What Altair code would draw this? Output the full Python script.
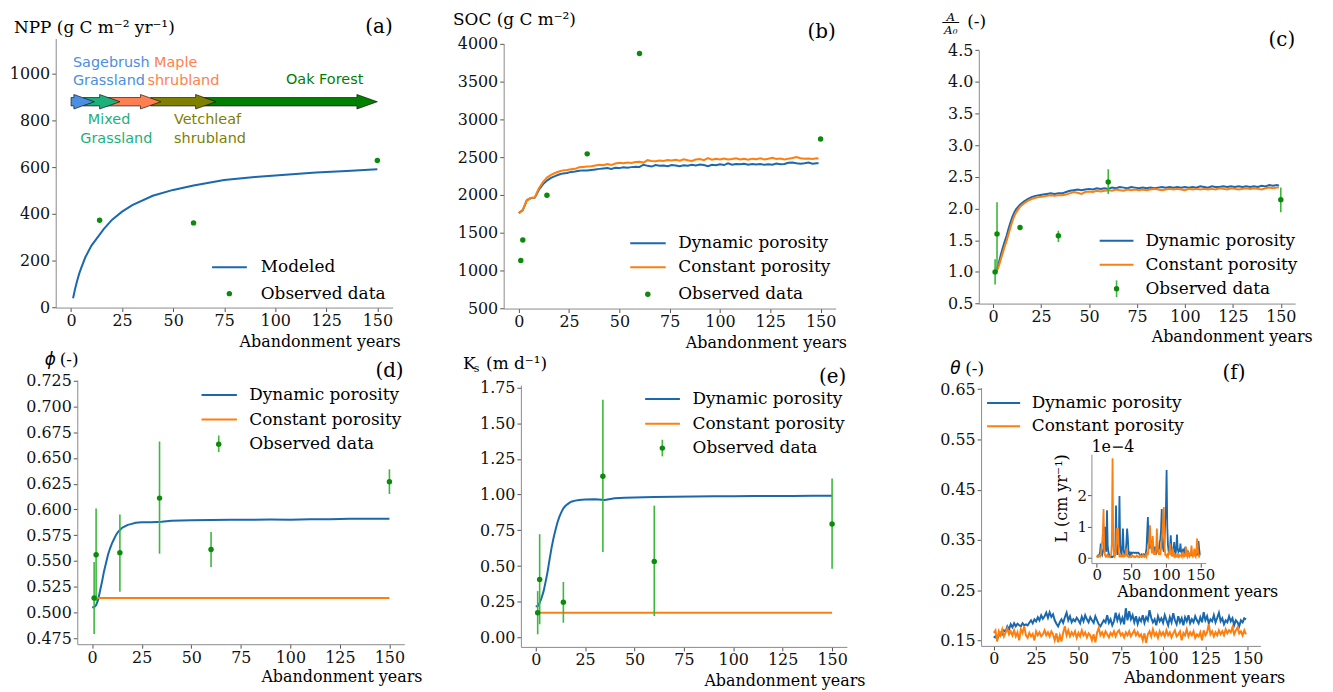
import altair as alt
import pandas as pd

# ---------------- values ----------------
# (a) NPP
npp_years = [1, 2, 3, 4, 5, 7, 10, 13, 16, 20, 25, 30, 40, 50, 60, 75, 90, 105, 120, 135, 150]
npp_model = [40, 80, 115, 145, 170, 215, 265, 300, 335, 375, 410, 438, 478, 503, 522, 545, 558, 568, 577, 584, 591]
npp_obs_years = [14, 60, 150]
npp_obs = [373, 362, 629]

stage_names = ["Sagebrush Grassland", "Mixed Grassland", "Maple shrubland", "Vetchleaf shrubland", "Oak Forest"]
stage_start = [0, 6, 17, 39, 65]
stage_end = [11.4, 24, 44, 71, 150]
stage_level = 880

# (b) SOC
soc_years = list(range(0, 150, 2)) + [149]
soc_dyn = [
    1760, 1800, 1930, 1960, 1965, 2070, 2140, 2190, 2225, 2250,
    2270, 2285, 2290, 2305, 2310, 2320, 2325, 2322, 2330, 2338,
    2345, 2350, 2355, 2345, 2360, 2355, 2365, 2360, 2368, 2372,
    2370, 2400, 2385, 2375, 2395, 2385, 2390, 2380, 2395, 2390,
    2380, 2392, 2385, 2398, 2390, 2402, 2395, 2380, 2400, 2392,
    2405, 2395, 2418, 2400, 2410, 2405, 2412, 2400, 2408, 2402,
    2410, 2398, 2405, 2400, 2415, 2405, 2410, 2425, 2430, 2420,
    2412, 2418, 2428, 2412, 2420,
    2418]
soc_const = [
    1760, 1800, 1930, 1960, 1970, 2090, 2170, 2230, 2265, 2290,
    2310, 2325, 2330, 2340, 2345, 2365, 2370, 2375, 2380, 2390,
    2400, 2392, 2410, 2395, 2415, 2425, 2418, 2428, 2422, 2435,
    2440, 2428, 2460, 2450, 2445, 2455, 2448, 2462, 2455, 2465,
    2452, 2470, 2458, 2450, 2468, 2475, 2460, 2488, 2465, 2478,
    2470, 2482, 2468, 2475, 2485, 2470, 2478, 2465, 2480, 2472,
    2484, 2470, 2478, 2490, 2475, 2482, 2470, 2480, 2488, 2500,
    2485, 2478, 2482, 2476, 2485,
    2480]
soc_obs_years = [1, 2, 14, 34, 60, 150]
soc_obs = [1134, 1406, 1996, 2543, 3869, 2740]

# (c) A/A0
agg_years = list(range(1, 13)) + list(range(14, 150, 2)) + [149]
agg_dyn = [
    1.00, 1.05, 1.15, 1.27, 1.38, 1.48, 1.57, 1.68, 1.78, 1.87, 1.94, 1.99,
    2.06, 2.11, 2.15, 2.18, 2.20, 2.21, 2.22, 2.23, 2.24, 2.23,
    2.24, 2.24, 2.26, 2.28, 2.29, 2.30, 2.29, 2.30, 2.31, 2.30,
    2.32, 2.31, 2.32, 2.31, 2.33, 2.32, 2.34, 2.33, 2.32, 2.34,
    2.33, 2.32, 2.33, 2.32, 2.33, 2.32, 2.33, 2.34, 2.33, 2.34,
    2.33, 2.34, 2.33, 2.34, 2.33, 2.34, 2.33, 2.35, 2.34, 2.33,
    2.35, 2.34, 2.34, 2.35, 2.34, 2.35, 2.34, 2.35, 2.34, 2.35,
    2.34, 2.35, 2.34, 2.36, 2.35, 2.37, 2.36, 2.37,
    2.36]
agg_const = [
    0.98, 1.02, 1.10, 1.20, 1.30, 1.40, 1.49, 1.60, 1.70, 1.80, 1.88, 1.94,
    2.03, 2.08, 2.12, 2.15, 2.17, 2.18, 2.19, 2.20, 2.21, 2.20,
    2.21, 2.21, 2.22, 2.24, 2.26, 2.25, 2.23, 2.26, 2.27, 2.26,
    2.28, 2.27, 2.28, 2.29, 2.28, 2.30, 2.29, 2.28, 2.30, 2.29,
    2.30, 2.29, 2.30, 2.29, 2.30, 2.31, 2.30, 2.29, 2.30, 2.31,
    2.30, 2.31, 2.30, 2.29, 2.31, 2.30, 2.31, 2.30, 2.31, 2.30,
    2.31, 2.30, 2.32, 2.31, 2.30, 2.32, 2.31, 2.30, 2.31, 2.32,
    2.31, 2.32, 2.31, 2.30, 2.32, 2.33, 2.32, 2.33,
    2.33]
obs_years = [1, 2, 14, 34, 60, 150]
agg_obs = [1.00, 1.60, 1.70, 1.57, 2.42, 2.14]
agg_lo = [0.80, 1.00, 1.68, 1.47, 2.23, 1.94]
agg_hi = [1.20, 2.10, 1.72, 1.65, 2.62, 2.33]

# (d) porosity and (e) Ks
de_years = list(range(0, 19)) + [20, 22, 25, 30, 35, 40, 45, 50] + list(range(60, 151, 10))
phi_dyn = [0.505, 0.505, 0.507, 0.512, 0.521, 0.530, 0.540, 0.548, 0.556, 0.562,
           0.567, 0.571, 0.575, 0.578, 0.580, 0.582, 0.583, 0.584, 0.585,
           0.586, 0.587, 0.5875, 0.5875, 0.588, 0.589, 0.5893, 0.5895,
           0.5897, 0.590, 0.590, 0.5902, 0.590, 0.5905, 0.5905, 0.591, 0.591, 0.591]
phi_const_years = [1, 150]
phi_const = [0.514, 0.514]
phi_obs = [0.514, 0.556, 0.558, 0.611, 0.561, 0.627]
phi_lo = [0.479, 0.511, 0.520, 0.557, 0.544, 0.615]
phi_hi = [0.549, 0.601, 0.595, 0.666, 0.578, 0.639]

ks_dyn = [0.220, 0.220, 0.243, 0.280, 0.325, 0.390, 0.460, 0.545, 0.626, 0.695,
          0.753, 0.805, 0.846, 0.878, 0.904, 0.920, 0.932, 0.942, 0.950,
          0.958, 0.963, 0.966, 0.968, 0.963, 0.975, 0.978, 0.980,
          0.983, 0.985, 0.986, 0.988, 0.988, 0.990, 0.990, 0.991, 0.992, 0.992]
ks_const_years = [1, 150]
ks_const = [0.174, 0.174]
ks_obs = [0.174, 0.406, 0.248, 1.129, 0.533, 0.795]
ks_lo = [0.023, 0.093, 0.104, 0.598, 0.151, 0.482]
ks_hi = [0.325, 0.723, 0.389, 1.664, 0.923, 1.113]

# (f) soil moisture and leaching (inset, x1e-4)
theta_years = list(range(0, 150))
theta_dyn = [
    0.155, 0.158, 0.152, 0.160, 0.165, 0.162, 0.170, 0.168, 0.178, 0.172,
    0.182, 0.176, 0.184, 0.178, 0.183, 0.180, 0.178, 0.184, 0.180, 0.182,
    0.180, 0.185, 0.190, 0.184, 0.192, 0.188, 0.196, 0.190, 0.200, 0.193,
    0.198, 0.205, 0.195, 0.206, 0.197, 0.202, 0.190, 0.183, 0.178, 0.186,
    0.192, 0.185, 0.196, 0.205, 0.190, 0.198, 0.186, 0.192, 0.188, 0.195,
    0.190, 0.184, 0.197, 0.188, 0.200, 0.192, 0.186, 0.196, 0.190, 0.185,
    0.198, 0.190, 0.182, 0.178, 0.184, 0.190, 0.186, 0.200, 0.185, 0.192,
    0.180, 0.188, 0.205, 0.190, 0.200, 0.186, 0.195, 0.182, 0.214, 0.190,
    0.208, 0.192, 0.200, 0.186, 0.198, 0.183, 0.194, 0.188, 0.200, 0.185,
    0.196, 0.190, 0.210, 0.195, 0.186, 0.192, 0.180, 0.198, 0.188, 0.194,
    0.185, 0.200, 0.190, 0.180, 0.196, 0.186, 0.204, 0.190, 0.182, 0.198,
    0.186, 0.194, 0.180, 0.196, 0.188, 0.200, 0.184, 0.192, 0.186, 0.198,
    0.190, 0.184, 0.196, 0.186, 0.206, 0.190, 0.198, 0.184, 0.192, 0.188,
    0.200, 0.186, 0.195, 0.205, 0.188, 0.194, 0.182, 0.190, 0.186, 0.198,
    0.188, 0.194, 0.180, 0.190, 0.186, 0.178, 0.190, 0.186, 0.194, 0.192]
theta_const = [
    0.165, 0.170, 0.148, 0.168, 0.160, 0.172, 0.158, 0.166, 0.174, 0.162,
    0.168, 0.160, 0.170, 0.158, 0.166, 0.150, 0.172, 0.165, 0.178, 0.160,
    0.155, 0.165, 0.158, 0.163, 0.150, 0.168, 0.160, 0.166, 0.158, 0.162,
    0.170, 0.160, 0.166, 0.158, 0.168, 0.162, 0.150, 0.164, 0.146, 0.160,
    0.148, 0.165, 0.178, 0.160, 0.170, 0.158, 0.166, 0.160, 0.168, 0.155,
    0.165, 0.158, 0.170, 0.160, 0.166, 0.156, 0.164, 0.160, 0.150, 0.162,
    0.146, 0.165, 0.175, 0.160, 0.166, 0.158, 0.168, 0.162, 0.156, 0.165,
    0.160, 0.168, 0.158, 0.166, 0.170, 0.160, 0.164, 0.156, 0.166, 0.160,
    0.168, 0.158, 0.164, 0.170, 0.160, 0.166, 0.158, 0.162, 0.150, 0.164,
    0.145, 0.162, 0.168, 0.158, 0.172, 0.160, 0.165, 0.155, 0.168, 0.160,
    0.166, 0.158, 0.170, 0.160, 0.166, 0.156, 0.164, 0.170, 0.158, 0.162,
    0.168, 0.150, 0.165, 0.160, 0.172, 0.158, 0.166, 0.160, 0.168, 0.155,
    0.162, 0.158, 0.166, 0.150, 0.170, 0.160, 0.166, 0.182, 0.162, 0.168,
    0.158, 0.166, 0.160, 0.170, 0.162, 0.168, 0.160, 0.172, 0.164, 0.170,
    0.166, 0.176, 0.162, 0.170, 0.176, 0.164, 0.168, 0.160, 0.170, 0.162]
leach_dyn = [
    0.05, 0.05, 0.08, 0.06, 0.10, 0.20, 0.46, 0.15, 0.10, 0.20,
    0.30, 0.60, 0.99, 0.30, 0.20, 1.52, 0.40, 0.20, 0.10, 0.05,
    0.05, 0.03, 0.05, 0.03, 0.05, 0.08, 0.10, 0.30, 1.67, 0.30,
    0.10, 0.20, 0.50, 1.97, 0.40, 0.20, 0.10, 0.40, 0.94, 0.30,
    0.10, 0.10, 0.20, 0.50, 0.94, 0.67, 0.20, 0.10, 0.15, 0.10,
    0.17, 0.15, 0.17, 0.18, 0.17, 0.16, 0.17, 0.17, 0.16, 0.17,
    0.17, 0.15, 0.12, 0.10, 0.10, 0.12, 0.10, 0.10, 0.12, 0.10,
    0.10, 0.15, 0.30, 0.80, 1.30, 0.50, 0.30, 0.83, 0.40, 0.30,
    0.57, 0.30, 0.20, 0.25, 0.36, 0.20, 0.15, 0.20, 0.30, 0.20,
    0.30, 0.50, 0.60, 0.90, 1.56, 0.60, 0.30, 0.20, 0.50, 1.20,
    1.50, 2.80, 1.00, 0.40, 0.20, 0.30, 0.25, 0.72, 0.30, 0.20,
    0.15, 0.30, 0.51, 0.20, 0.15, 0.30, 0.75, 0.30, 0.20, 0.25,
    0.20, 0.46, 0.20, 0.15, 0.20, 0.30, 0.20, 0.15, 0.36, 0.20,
    0.15, 0.10, 0.20, 0.15, 0.10, 0.12, 0.10, 0.15, 0.10, 0.10,
    0.12, 0.10, 0.15, 0.20, 0.10, 0.10, 0.15, 0.54, 0.30, 0.10]
leach_const = [
    0.03, 0.05, 0.03, 0.05, 0.08, 0.05, 0.10, 0.30, 0.50, 0.80,
    1.56, 0.30, 0.10, 0.05, 0.08, 0.05, 0.10, 0.05, 0.03, 0.05,
    0.08, 0.10, 0.50, 3.17, 0.50, 0.10, 0.05, 0.10, 0.30, 0.95,
    0.50, 0.95, 0.20, 0.05, 0.05, 0.08, 0.05, 0.05, 0.10, 0.05,
    0.05, 0.10, 0.05, 0.30, 0.10, 0.05, 0.03, 0.05, 0.03, 0.05,
    0.03, 0.05, 0.08, 0.05, 0.03, 0.05, 0.03, 0.05, 0.08, 0.05,
    0.03, 0.05, 0.03, 0.08, 0.05, 0.03, 0.05, 0.10, 0.05, 0.03,
    0.05, 0.10, 0.05, 0.20, 0.10, 0.30, 0.60, 1.04, 0.50, 0.30,
    0.15, 0.70, 0.30, 0.10, 0.20, 0.10, 0.30, 0.94, 0.40, 0.20,
    0.10, 0.20, 0.10, 0.30, 0.60, 0.80, 1.20, 1.62, 0.40, 0.10,
    0.10, 0.05, 0.10, 0.05, 0.20, 0.10, 0.46, 0.20, 0.10, 0.05,
    0.30, 0.10, 0.05, 0.10, 0.05, 0.08, 0.05, 0.10, 0.05, 0.10,
    0.05, 0.08, 0.10, 0.05, 0.20, 0.10, 0.05, 0.10, 0.05, 0.36,
    0.10, 0.05, 0.20, 0.10, 0.05, 0.10, 0.20, 0.40, 0.10, 0.05,
    0.10, 0.30, 0.10, 0.05, 0.20, 0.62, 0.30, 0.10, 0.05, 0.10]

# ---------------- styling / layout ----------------
SERIF = "DejaVu Serif"
SANS = "DejaVu Sans"
BLUE = "#1a68ad"
ORANGE = "#ff7f0e"
GREEN_DOT = "#0c8a0c"
GREEN_BAR = "#3cb83c"
K = "black"
stage_colors = ["#4a8fe0", "#1db07a", "#ff7f50", "#808000", "#008000"]
W, H, M = 1325, 684, 8
XDOM = [-7.5, 157.5]
XTICKS = [0, 25, 50, 75, 100, 125, 150]

# plot-area rectangles in page pixels
PANELS = {
    "a": dict(x0=56, x1=395, yt=36.7, yb=307.3, ydom=[0, 1150]),
    "b": dict(x0=506.7, x1=840.7, yt=41.7, yb=308.3, ydom=[500, 4000]),
    "c": dict(x0=984.7, x1=1303, yt=48.3, yb=303.3, ydom=[0.5, 4.5]),
    "d": dict(x0=77.7, x1=406.7, yt=380.3, yb=646, ydom=[0.469, 0.7257]),
    "e": dict(x0=524, x1=852, yt=385.3, yb=648.7, ydom=[-0.065, 1.766]),
    "f": dict(x0=987, x1=1268, yt=387.7, yb=647.7, ydom=[0.139, 0.6535]),
    "i": dict(x0=1098, x1=1213, yt=454.8, yb=564.4, ydom=[-0.16, 3.3]),
}


def xy(xv, yv):
    return pd.DataFrame({"x": xv, "y": yv})


def bars(xv, lo, hi):
    return pd.DataFrame({"x": xv, "lo": lo, "hi": hi})


def panel(key, parts, xvals, yvals, yfmt, size=16, lw=2, xpad=1, ypad=2):
    p = PANELS[key]
    sx = alt.Scale(domain=XDOM, range=[p["x0"] - M, p["x1"] - M], nice=False, zero=False)
    sy = alt.Scale(domain=p["ydom"], range=[p["yb"] - M, p["yt"] - M], nice=False, zero=False)
    common = dict(labelFont=SERIF, labelFontSize=size, labelColor="#111111", labelOverlap=False,
                  labelFlush=False, grid=False, title=None, domainColor="#8a8a8a",
                  tickColor="#555555", tickSize=4, domainWidth=1, tickWidth=1)
    xa = alt.Axis(orient="bottom", offset=(p["yb"] - M) - H, values=xvals, format="d",
                  labelPadding=xpad, **common)
    ya = alt.Axis(orient="left", offset=-(p["x0"] - M), values=yvals, format=yfmt,
                  labelPadding=ypad, **common)
    out = []
    for kind, df, color in parts:
        X = alt.X("x:Q", scale=sx, axis=xa)
        if kind == "line":
            out.append(alt.Chart(df).mark_line(color=color, strokeWidth=lw).encode(
                X, alt.Y("y:Q", scale=sy, axis=ya)))
        elif kind == "dot":
            out.append(alt.Chart(df).mark_circle(color=color, size=30, opacity=1).encode(
                X, alt.Y("y:Q", scale=sy, axis=ya)))
        elif kind == "bar":
            out.append(alt.Chart(df).mark_rule(color=color, strokeWidth=1.6).encode(
                X, alt.Y("lo:Q", scale=sy, axis=ya), alt.Y2("hi:Q")))
        elif kind == "arrow":
            out.append(alt.Chart(df).mark_area(fill=color, stroke="black", strokeWidth=0.6,
                                               opacity=1).encode(
                X, alt.Y("lo:Q", scale=sy, axis=ya), alt.Y2("hi:Q")))
    return alt.layer(*out)


# succession arrows for panel (a), built from stage start/end years
HEAD_LEN, BODY, HEAD = 10, 18, 31
arrow_parts = []
for k in reversed(range(len(stage_names))):
    x0, x1 = stage_start[k], stage_end[k]
    xh = x1 - HEAD_LEN
    c = stage_level
    arrow_df = pd.DataFrame({
        "x": [x0, xh - 0.01, xh, x1],
        "lo": [c - BODY, c - BODY, c - HEAD, c],
        "hi": [c + BODY, c + BODY, c + HEAD, c],
    })
    arrow_parts.append(("arrow", arrow_df, stage_colors[k]))

pa = panel("a", [("line", xy(npp_years, npp_model), BLUE)] + arrow_parts +
           [("dot", xy(npp_obs_years, npp_obs), GREEN_DOT)],
           XTICKS, [0, 200, 400, 600, 800, 1000], "d")
pb = panel("b", [("line", xy(soc_years, soc_dyn), BLUE),
                 ("line", xy(soc_years, soc_const), ORANGE),
                 ("dot", xy(soc_obs_years, soc_obs), GREEN_DOT)],
           XTICKS, [500, 1000, 1500, 2000, 2500, 3000, 3500, 4000], "d")
pc = panel("c", [("line", xy(agg_years, agg_dyn), BLUE),
                 ("line", xy(agg_years, agg_const), ORANGE),
                 ("bar", bars(obs_years, agg_lo, agg_hi), GREEN_BAR),
                 ("dot", xy(obs_years, agg_obs), GREEN_DOT)],
           XTICKS, [0.5, 1.0, 1.5, 2.0, 2.5, 3.0, 3.5, 4.0, 4.5], ".1f")
pd_ = panel("d", [("line", xy(de_years, phi_dyn), BLUE),
                  ("line", xy(phi_const_years, phi_const), ORANGE),
                  ("bar", bars(obs_years, phi_lo, phi_hi), GREEN_BAR),
                  ("dot", xy(obs_years, phi_obs), GREEN_DOT)],
            XTICKS, [0.475, 0.5, 0.525, 0.55, 0.575, 0.6, 0.625, 0.65, 0.675, 0.7, 0.725], ".3f")
pe = panel("e", [("line", xy(de_years, ks_dyn), BLUE),
                 ("line", xy(ks_const_years, ks_const), ORANGE),
                 ("bar", bars(obs_years, ks_lo, ks_hi), GREEN_BAR),
                 ("dot", xy(obs_years, ks_obs), GREEN_DOT)],
           XTICKS, [0, 0.25, 0.5, 0.75, 1.0, 1.25, 1.5, 1.75], ".2f")
pf = panel("f", [("line", xy(theta_years, theta_dyn), BLUE),
                 ("line", xy(theta_years, theta_const), ORANGE)],
           XTICKS, [0.15, 0.25, 0.35, 0.45, 0.55, 0.65], ".2f")
pi = panel("i", [("line", xy(theta_years, leach_dyn), BLUE),
                 ("line", xy(theta_years, leach_const), ORANGE)],
           [0, 50, 100, 150], [0, 1, 2], "d", size=15, lw=1.8, xpad=0, ypad=1)


# ---------------- annotations (page pixel positions) ----------------
def texts(rows, align="left", font=SERIF, size=16, angle=0, style="normal"):
    df = pd.DataFrame(rows, columns=["t", "px", "py", "c"])
    df["px"] = df["px"] - M
    df["py"] = df["py"] - M
    return alt.Chart(df).mark_text(align=align, baseline="middle", font=font, fontSize=size,
                                   angle=angle, fontStyle=style).encode(
        x=alt.X("px:Q", scale=None, axis=None), y=alt.Y("py:Q", scale=None, axis=None),
        text="t:N", color=alt.Color("c:N", scale=None))


def hrules(rows, width=2):
    df = pd.DataFrame(rows, columns=["a", "b", "py", "c"])
    for col in ["a", "b", "py"]:
        df[col] = df[col] - M
    return alt.Chart(df).mark_rule(strokeWidth=width).encode(
        x=alt.X("a:Q", scale=None, axis=None), x2="b:Q",
        y=alt.Y("py:Q", scale=None, axis=None), color=alt.Color("c:N", scale=None))


def vrules(rows, width=1.6):
    df = pd.DataFrame(rows, columns=["px", "a", "b", "c"])
    for col in ["px", "a", "b"]:
        df[col] = df[col] - M
    return alt.Chart(df).mark_rule(strokeWidth=width).encode(
        x=alt.X("px:Q", scale=None, axis=None),
        y=alt.Y("a:Q", scale=None, axis=None), y2="b:Q", color=alt.Color("c:N", scale=None))


def dots(rows):
    df = pd.DataFrame(rows, columns=["px", "py", "c"])
    df["px"] = df["px"] - M
    df["py"] = df["py"] - M
    return alt.Chart(df).mark_circle(size=30, opacity=1).encode(
        x=alt.X("px:Q", scale=None, axis=None), y=alt.Y("py:Q", scale=None, axis=None),
        color=alt.Color("c:N", scale=None))


AY = "Abandonment years"
DP, CP, OD = "Dynamic porosity", "Constant porosity", "Observed data"
LEG, YT, TAG = 17, 17, 20

titles_left = texts([
    ("NPP (g C m⁻² yr⁻¹)", 14, 26, K),
    ("SOC (g C m⁻²)", 455.7, 18.3, K),
    ("(-)", 973, 20.5, K),
    ("(-)", 60, 360, K),
    ("K", 465.7, 364.3, K),
    ("(m d⁻¹)", 489, 364.3, K),
    ("(-)", 971, 368.7, K),
], size=YT)
offset_text = texts([("1e−4", 1098, 447.7, K)], size=16)
ks_sub = texts([("s", 476.5, 369.5, K)], size=11)
greek = texts([("ϕ", 45, 360, K), ("θ", 956, 368.7, K)], font=SANS, size=YT, style="italic")
frac = texts([("A", 956.5, 14.5, K), ("A₀", 956.5, 28.5, K)], align="center", size=12, style="italic")
frac_bar = hrules([(948, 965, 20.5, K)], width=1)

panel_tags = texts([
    ("(a)", 395, 25, K), ("(b)", 840.7, 30, K), ("(c)", 1303, 38.3, K),
    ("(d)", 406, 371, K), ("(e)", 851.3, 377, K), ("(f)", 1253, 373.3, K),
], align="right", size=TAG)
xtitles = texts([
    (AY, 403, 341.5, K), (AY, 852, 342.5, K), (AY, 1320.7, 336.7, K),
    (AY, 425, 679.3, K), (AY, 870.7, 682.7, K), (AY, 1293, 680.3, K),
    (AY, 1286, 594, K),
], align="right", size=16)
ytitle_inset = texts([("L (cm yr⁻¹)", 1068, 499.3, K)], align="center", size=16, angle=270)

stage_text = texts([
    ("Sagebrush", 73.3, 61.7, stage_colors[0]), ("Grassland", 73.3, 79, stage_colors[0]),
    ("Maple", 155, 61.7, stage_colors[2]), ("shrubland", 148.3, 79, stage_colors[2]),
    ("Oak Forest", 287.7, 78.3, stage_colors[4]),
    ("Mixed", 88.3, 118.3, stage_colors[1]), ("Grassland", 80.7, 137.3, stage_colors[1]),
    ("Vetchleaf", 175, 118.3, stage_colors[3]), ("shrubland", 175, 137.3, stage_colors[3]),
], font=SANS, size=14.5)

legend_lines = hrules([
    (213.3, 248.3, 266.7, BLUE),
    (634, 669.7, 242.7, BLUE), (634, 669.7, 266.7, ORANGE),
    (1106.3, 1140.3, 240, BLUE), (1106.3, 1140.3, 264.3, ORANGE),
    (202.7, 238.3, 395.3, BLUE), (202.7, 238.3, 420, ORANGE),
    (649, 684, 399.3, BLUE), (649, 684, 424.3, ORANGE),
    (993, 1026.3, 403.3, BLUE), (993, 1026.3, 426.7, ORANGE),
])
legend_bars = vrules([
    (1123.3, 280, 296.7, GREEN_BAR), (220, 436, 452.7, GREEN_BAR), (666.3, 440.3, 457, GREEN_BAR),
])
legend_dots = dots([
    (230.7, 293.3, GREEN_DOT), (651.7, 294, GREEN_DOT), (1123.3, 288.3, GREEN_DOT),
    (220, 444.7, GREEN_DOT), (666.3, 448.7, GREEN_DOT),
])
legend_text = texts([
    ("Modeled", 262.3, 266.7, K), (OD, 262.3, 293.3, K),
    (DP, 682.3, 242.7, K), (CP, 682.3, 266.7, K), (OD, 682.3, 294, K),
    (DP, 1152.3, 240, K), (CP, 1152.3, 264.3, K), (OD, 1152.3, 288.3, K),
    (DP, 250.7, 395.3, K), (CP, 250.7, 420, K), (OD, 250.7, 444.7, K),
    (DP, 696.7, 399.3, K), (CP, 696.7, 424.3, K), (OD, 696.7, 448.7, K),
    (DP, 1038, 403.3, K), (CP, 1038, 426.7, K),
], size=LEG)

chart = alt.layer(
    pa, pb, pc, pd_, pe, pf, pi,
    titles_left, offset_text, ks_sub, greek, frac, frac_bar, panel_tags, xtitles, ytitle_inset,
    stage_text, legend_lines, legend_bars, legend_dots, legend_text,
).resolve_scale(
    x="independent", y="independent"
).resolve_axis(
    x="independent", y="independent"
).properties(
    width=W, height=H, padding=0, autosize="none", background="white"
).configure_view(
    strokeWidth=0
)

chart.save("out.html", embed_options={"renderer": "svg", "actions": False})
